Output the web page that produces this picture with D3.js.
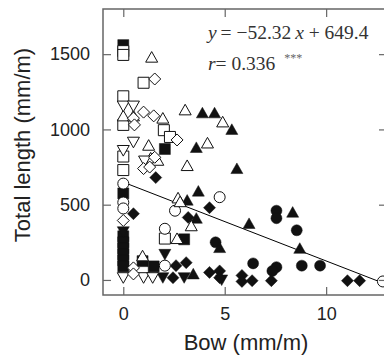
<!DOCTYPE html>
<html>
<head>
<meta charset="utf-8">
<script src="https://cdn.jsdelivr.net/npm/d3@7/dist/d3.min.js"></script>
<style>
  body { margin: 0; background: #fff; }
</style>
</head>
<body>
<div id="chart"></div>
<script>
// [bow (mm/m), total length (mm/m)]
const filledSquare = [[0, 1560], [2.05, 870], [0, 575], [0, 290], [0, 250], [0, 210], [0, 170], [0, 130], [0, 90], [3.0, 270], [0.95, 125], [1.5, 90]];
const filledCircle = [[7.55, 460], [7.55, 410], [8.55, 330], [4.55, 250], [6.4, 110], [7.55, 85], [7.35, 60], [8.8, 95], [9.7, 95]];
const filledTriUp = [[3.6, 880], [3.9, 1110], [4.5, 1110], [5.35, 1000], [5.6, 740], [3.7, 590], [3.15, 530], [3.6, 410], [6.2, 375], [8.35, 450], [8.7, 210], [4.75, 215], [3.45, 40]];
const filledTriDown = [[0, 320], [2.05, 170], [1.95, 15], [3.0, 15], [4.85, 0]];
const filledDiamond = [[1.6, 680], [0.5, 440], [3.2, 415], [4.25, 480], [2.6, 95], [3.1, 115], [2.45, 15], [4.25, 50], [4.75, 60], [4.75, 15], [5.85, 30], [5.85, -10], [6.35, -5], [7.3, -5], [11.05, -5], [11.65, -5]];
const openSquare = [[0, 1520], [0, 1495], [1.0, 1310], [0, 1220], [0, 1030], [2.0, 995], [2.3, 950], [0, 820], [0, 730], [2.05, 275]];
const openCircle = [[0, 640], [0, 515], [0, 475], [2.05, 340], [2.55, 460], [2.05, 95], [4.75, 550], [12.8, -10]];
const openTriUp = [[1.4, 1480], [0, 1090], [0.5, 1090], [1.95, 1075], [3.05, 1130], [4.9, 1050], [4.15, 910], [1.25, 895], [1.35, 810], [1.7, 795], [3.15, 760], [2.7, 545], [2.8, 520], [3.35, 360], [2.65, 275], [0.95, 160]];
const openTriDown = [[0, 1155], [0.5, 1155], [0.5, 915], [1.05, 790], [0, 860], [0, 15], [1.0, 15], [1.45, 15]];
const openDiamond = [[1.55, 1335], [0.5, 1075], [1.0, 1115], [1.5, 1090], [0.55, 1030], [2.65, 930], [1.55, 815], [1.0, 740], [1.3, 750], [0, 395], [0.5, 80], [0.5, 40]];

const xTicks = [0, 5, 10];
const yTicks = [0, 500, 1000, 1500];
const slope = -52.32;
const intercept = 649.4;

const series = [
  { shape: 'square', filled: true, data: filledSquare },
  { shape: 'circle', filled: true, data: filledCircle },
  { shape: 'triUp', filled: true, data: filledTriUp },
  { shape: 'triDown', filled: true, data: filledTriDown },
  { shape: 'diamond', filled: true, data: filledDiamond },
  { shape: 'square', filled: false, data: openSquare },
  { shape: 'circle', filled: false, data: openCircle },
  { shape: 'triUp', filled: false, data: openTriUp },
  { shape: 'triDown', filled: false, data: openTriDown },
  { shape: 'diamond', filled: false, data: openDiamond }
];

const shapes = {
  square: 'M-5.5,-5.5H5.5V5.5H-5.5Z',
  circle: d3.symbol(d3.symbolCircle, 95)(),
  triUp: 'M0,-5.6L6,5L-6,5Z',
  triDown: 'M0,5.6L6,-5L-6,-5Z',
  diamond: 'M0,-6L6,0L0,6L-6,0Z'
};

const w = 384, h = 360;
const m = { left: 103, top: 9, right: 387, bottom: 295 };

const x = d3.scaleLinear().domain([-1, 13]).range([m.left, m.right]);
const y = d3.scaleLinear().domain([-100, 1800]).range([m.bottom, m.top]);

const svg = d3.select('#chart')
  .append('svg')
  .attr('width', w)
  .attr('height', h)
  .style('font-family', '"Liberation Sans", Arial, sans-serif');

svg.append('clipPath')
  .attr('id', 'clip')
  .append('rect')
  .attr('x', m.left)
  .attr('y', m.top)
  .attr('width', m.right - m.left)
  .attr('height', m.bottom - m.top);

// regression line
svg.append('line')
  .attr('clip-path', 'url(#clip)')
  .attr('x1', x(0))
  .attr('y1', y(intercept))
  .attr('x2', x(13))
  .attr('y2', y(slope * 13 + intercept))
  .attr('stroke', '#000')
  .attr('stroke-width', 1);

series.forEach(function (s) {
  svg.append('g')
    .selectAll('path')
    .data(s.data)
    .enter()
    .append('path')
    .attr('d', shapes[s.shape])
    .attr('transform', d => 'translate(' + x(d[0]) + ',' + y(d[1]) + ')')
    .attr('fill', s.filled ? '#111' : '#fff')
    .attr('stroke', '#111')
    .attr('stroke-width', s.filled ? 0.5 : 1);
});

function styleAxis(g, showText) {
  g.select('.domain').remove();
  g.selectAll('line').attr('stroke', '#666').attr('stroke-width', 1.2);
  g.selectAll('text')
    .attr('fill', '#222')
    .style('font-size', '18px')
    .style('font-family', '"Liberation Sans", Arial, sans-serif');
  if (!showText) g.selectAll('text').remove();
}

const fmt = d3.format('d');

svg.append('g')
  .attr('transform', 'translate(0,' + m.bottom + ')')
  .call(d3.axisBottom(x).tickValues(xTicks).tickFormat(fmt).tickSizeInner(-8).tickSizeOuter(0).tickPadding(12))
  .call(g => styleAxis(g, true));

svg.append('g')
  .attr('transform', 'translate(0,' + m.top + ')')
  .call(d3.axisTop(x).tickValues(xTicks).tickSizeInner(-8).tickSizeOuter(0))
  .call(g => styleAxis(g, false));

svg.append('g')
  .attr('transform', 'translate(' + m.left + ',0)')
  .call(d3.axisLeft(y).tickValues(yTicks).tickFormat(fmt).tickSizeInner(-8).tickSizeOuter(0).tickPadding(13))
  .call(g => styleAxis(g, true));

svg.append('g')
  .attr('transform', 'translate(' + m.right + ',0)')
  .call(d3.axisRight(y).tickValues(yTicks).tickSizeInner(-8).tickSizeOuter(0))
  .call(g => styleAxis(g, false));

svg.append('rect')
  .attr('x', m.left)
  .attr('y', m.top)
  .attr('width', m.right - m.left)
  .attr('height', m.bottom - m.top)
  .attr('fill', 'none')
  .attr('stroke', '#666')
  .attr('stroke-width', 1.5);

svg.append('text')
  .text('Bow (mm/m)')
  .attr('x', 246)
  .attr('y', 350)
  .attr('text-anchor', 'middle')
  .attr('fill', '#222')
  .style('font-size', '22px');

svg.append('text')
  .text('Total length (mm/m)')
  .attr('transform', 'translate(30,145) rotate(-90)')
  .attr('text-anchor', 'middle')
  .attr('fill', '#222')
  .style('font-size', '22px');

const eq = svg.append('g')
  .style('font-family', '"Liberation Serif", "Times New Roman", serif')
  .style('font-size', '19.5px')
  .attr('fill', '#333');

const line1 = eq.append('text').attr('x', 208).attr('y', 39);
line1.append('tspan').text('y').style('font-style', 'italic');
line1.append('tspan').text('\u2009= \u221252.32\u2009');
line1.append('tspan').text('x').style('font-style', 'italic');
line1.append('tspan').text(' + 649.4');

const line2 = eq.append('text').attr('x', 208).attr('y', 70);
line2.append('tspan').text('r').style('font-style', 'italic');
line2.append('tspan').text('= 0.336 ');
line2.append('tspan').text('***')
  .attr('dx', 4)
  .attr('dy', -8)
  .attr('fill', '#666')
  .style('font-size', '12px');
</script>
</body>
</html>
